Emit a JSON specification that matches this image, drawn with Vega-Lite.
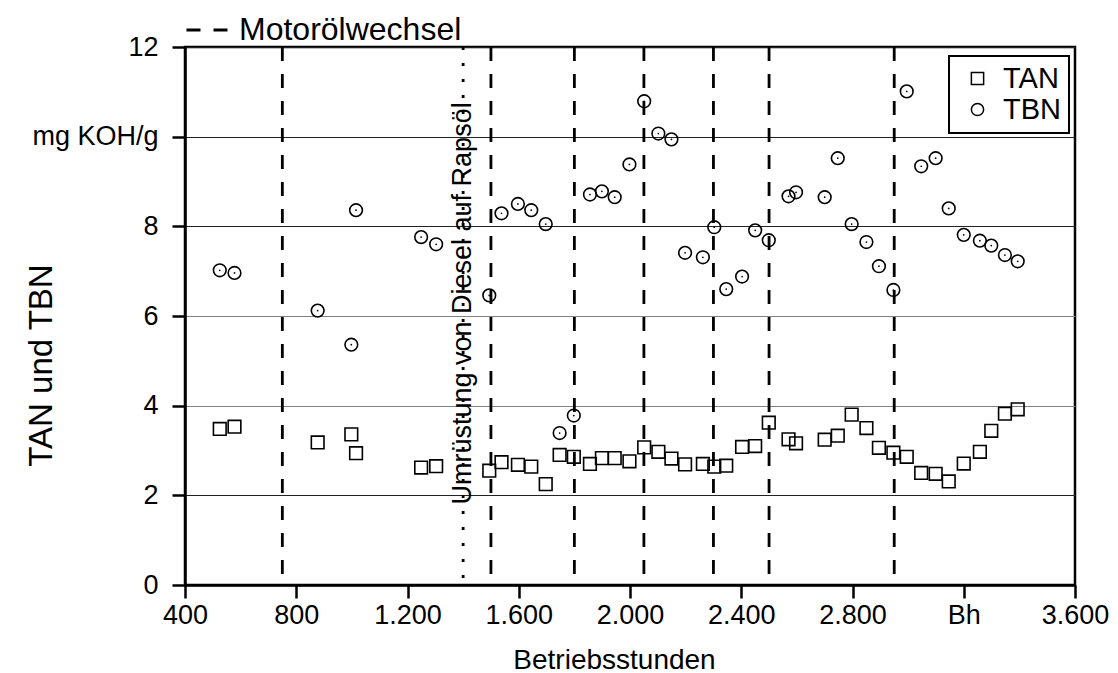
{
  "$schema": "https://vega.github.io/schema/vega-lite/v6.json",
  "width": 890,
  "height": 538,
  "autosize": {"type": "none"},
  "padding": {"left": 185, "top": 47, "right": 43, "bottom": 88},
  "background": "white",
  "config": {
    "font": "Liberation Sans",
    "view": {"stroke": "black", "strokeWidth": 2.5},
    "axis": {
      "labelFont": "Liberation Sans",
      "titleFont": "Liberation Sans",
      "labelColor": "black",
      "titleColor": "black",
      "titleFontWeight": "normal",
      "domainColor": "black",
      "domainWidth": 2.5,
      "tickColor": "black",
      "tickWidth": 2.5,
      "tickSize": 13
    },
    "legend": {"labelFont": "Liberation Sans", "labelColor": "black", "strokeWidth": 2}
  },
  "datasets": {
    "pts": [
      {"x": 525, "type": "TAN", "v": 3.48}, {"x": 525, "type": "TBN", "v": 7.02},
      {"x": 578, "type": "TAN", "v": 3.53}, {"x": 578, "type": "TBN", "v": 6.96},
      {"x": 877, "type": "TAN", "v": 3.18}, {"x": 877, "type": "TBN", "v": 6.12},
      {"x": 998, "type": "TAN", "v": 3.36}, {"x": 998, "type": "TBN", "v": 5.36},
      {"x": 1015, "type": "TAN", "v": 2.94}, {"x": 1015, "type": "TBN", "v": 8.36},
      {"x": 1249, "type": "TAN", "v": 2.62}, {"x": 1249, "type": "TBN", "v": 7.76},
      {"x": 1303, "type": "TAN", "v": 2.65}, {"x": 1303, "type": "TBN", "v": 7.6},
      {"x": 1494, "type": "TAN", "v": 2.55}, {"x": 1494, "type": "TBN", "v": 6.46},
      {"x": 1538, "type": "TAN", "v": 2.74}, {"x": 1538, "type": "TBN", "v": 8.29},
      {"x": 1597, "type": "TAN", "v": 2.68}, {"x": 1597, "type": "TBN", "v": 8.5},
      {"x": 1645, "type": "TAN", "v": 2.64}, {"x": 1645, "type": "TBN", "v": 8.36},
      {"x": 1697, "type": "TAN", "v": 2.25}, {"x": 1697, "type": "TBN", "v": 8.05},
      {"x": 1747, "type": "TAN", "v": 2.9}, {"x": 1747, "type": "TBN", "v": 3.39},
      {"x": 1798, "type": "TAN", "v": 2.86}, {"x": 1798, "type": "TBN", "v": 3.78},
      {"x": 1856, "type": "TAN", "v": 2.7}, {"x": 1856, "type": "TBN", "v": 8.71},
      {"x": 1899, "type": "TAN", "v": 2.83}, {"x": 1899, "type": "TBN", "v": 8.78},
      {"x": 1945, "type": "TAN", "v": 2.83}, {"x": 1945, "type": "TBN", "v": 8.65},
      {"x": 1998, "type": "TAN", "v": 2.76}, {"x": 1998, "type": "TBN", "v": 9.38},
      {"x": 2051, "type": "TAN", "v": 3.07}, {"x": 2051, "type": "TBN", "v": 10.79},
      {"x": 2102, "type": "TAN", "v": 2.97}, {"x": 2102, "type": "TBN", "v": 10.07},
      {"x": 2149, "type": "TAN", "v": 2.82}, {"x": 2149, "type": "TBN", "v": 9.94},
      {"x": 2198, "type": "TAN", "v": 2.69}, {"x": 2198, "type": "TBN", "v": 7.41},
      {"x": 2262, "type": "TAN", "v": 2.7}, {"x": 2262, "type": "TBN", "v": 7.31},
      {"x": 2303, "type": "TAN", "v": 2.64}, {"x": 2303, "type": "TBN", "v": 7.98},
      {"x": 2346, "type": "TAN", "v": 2.66}, {"x": 2346, "type": "TBN", "v": 6.6},
      {"x": 2403, "type": "TAN", "v": 3.08}, {"x": 2403, "type": "TBN", "v": 6.88},
      {"x": 2450, "type": "TAN", "v": 3.1}, {"x": 2450, "type": "TBN", "v": 7.91},
      {"x": 2499, "type": "TAN", "v": 3.62}, {"x": 2499, "type": "TBN", "v": 7.69},
      {"x": 2570, "type": "TAN", "v": 3.25}, {"x": 2570, "type": "TBN", "v": 8.67},
      {"x": 2597, "type": "TAN", "v": 3.16}, {"x": 2597, "type": "TBN", "v": 8.76},
      {"x": 2700, "type": "TAN", "v": 3.24}, {"x": 2700, "type": "TBN", "v": 8.65},
      {"x": 2747, "type": "TAN", "v": 3.33}, {"x": 2747, "type": "TBN", "v": 9.52},
      {"x": 2797, "type": "TAN", "v": 3.8}, {"x": 2797, "type": "TBN", "v": 8.05},
      {"x": 2850, "type": "TAN", "v": 3.5}, {"x": 2850, "type": "TBN", "v": 7.65},
      {"x": 2895, "type": "TAN", "v": 3.06}, {"x": 2895, "type": "TBN", "v": 7.11},
      {"x": 2947, "type": "TAN", "v": 2.95}, {"x": 2947, "type": "TBN", "v": 6.58},
      {"x": 2995, "type": "TAN", "v": 2.86}, {"x": 2995, "type": "TBN", "v": 11.01},
      {"x": 3047, "type": "TAN", "v": 2.5}, {"x": 3047, "type": "TBN", "v": 9.34},
      {"x": 3099, "type": "TAN", "v": 2.48}, {"x": 3099, "type": "TBN", "v": 9.52},
      {"x": 3146, "type": "TAN", "v": 2.31}, {"x": 3146, "type": "TBN", "v": 8.4},
      {"x": 3200, "type": "TAN", "v": 2.71}, {"x": 3200, "type": "TBN", "v": 7.81},
      {"x": 3258, "type": "TAN", "v": 2.97}, {"x": 3258, "type": "TBN", "v": 7.68},
      {"x": 3299, "type": "TAN", "v": 3.44}, {"x": 3299, "type": "TBN", "v": 7.57},
      {"x": 3348, "type": "TAN", "v": 3.82}, {"x": 3348, "type": "TBN", "v": 7.36},
      {"x": 3394, "type": "TAN", "v": 3.92}, {"x": 3394, "type": "TBN", "v": 7.22}
    ],
    "rules": [
      {"x": 750, "kind": "Motorölwechsel"},
      {"x": 1500, "kind": "Motorölwechsel"},
      {"x": 1800, "kind": "Motorölwechsel"},
      {"x": 2050, "kind": "Motorölwechsel"},
      {"x": 2300, "kind": "Motorölwechsel"},
      {"x": 2500, "kind": "Motorölwechsel"},
      {"x": 2950, "kind": "Motorölwechsel"},
      {"x": 1400, "kind": "Umrüstung"}
    ],
    "notes": [
      {"x": 1400, "v": 6.28, "t": "Umrüstung von Diesel auf Rapsöl"}
    ]
  },
  "encoding": {
    "x": {
      "field": "x", "type": "quantitative",
      "scale": {"domain": [400, 3600], "nice": false, "zero": false},
      "axis": {
        "title": "Betriebsstunden", "values": [400, 800, 1200, 1600, 2000, 2400, 2800, 3200, 3600],
        "labelExpr": "datum.value == 3200 ? 'Bh' : replace(format(datum.value, ','), ',', '.')",
        "labelFontSize": 27, "labelBaseline": "alphabetic", "labelPadding": 25,
        "labelFlush": false, "labelOverlap": false,
        "titleFontSize": 28, "titleX": 429, "titleY": 83, "titleBaseline": "alphabetic",
        "grid": false
      }
    }
  },
  "layer": [
    {
      "data": {"name": "rules"},
      "mark": {"type": "rule", "color": "black", "strokeWidth": 2.8},
      "encoding": {
        "strokeDash": {
          "field": "kind", "type": "nominal",
          "scale": {"domain": ["Motorölwechsel", "Umrüstung"], "range": [[14, 13], [3, 13]]},
          "legend": {
            "values": ["Motorölwechsel"], "title": null, "orient": "none",
            "legendX": 0, "legendY": -39, "padding": 0,
            "labelFontSize": 32, "labelOffset": 10, "labelLimit": 0,
            "symbolType": "stroke", "symbolSize": 1681, "symbolStrokeWidth": 3,
            "symbolStrokeColor": "black"
          }
        }
      }
    },
    {
      "data": {"name": "notes"},
      "mark": {"type": "text", "angle": 270, "fontSize": 27, "align": "center", "baseline": "middle", "color": "black", "font": "Liberation Sans"},
      "encoding": {
        "y": {"field": "v", "type": "quantitative"},
        "text": {"field": "t"}
      }
    },
    {
      "data": {"name": "pts"},
      "mark": {"type": "point", "filled": false, "stroke": "black", "strokeWidth": 1.6, "size": 160, "opacity": 1},
      "encoding": {
        "y": {
          "field": "v", "type": "quantitative", "scale": {"domain": [0, 12], "nice": false},
          "axis": {
            "title": "TAN und TBN", "values": [0, 2, 4, 6, 8, 10, 12],
            "labelExpr": "datum.value == 10 ? 'mg KOH/g' : datum.label",
            "labelFontSize": 27, "labelPadding": 14, "labelBaseline": "middle",
            "labelFlush": false, "labelOverlap": false,
            "titleFontSize": 33, "titleX": -134, "titleY": 318, "titleBaseline": "alphabetic", "titleAngle": 270,
            "grid": true,
            "gridColor": {"condition": {"test": "datum.value == 4 || datum.value == 6", "value": "#808080"}, "value": "#222222"},
            "gridWidth": 1.2
          }
        },
        "shape": {
          "field": "type", "type": "nominal",
          "scale": {"domain": ["TAN", "TBN"], "range": ["square", "circle"]},
          "legend": {
            "title": null, "orient": "none", "legendX": 764, "legendY": 9,
            "strokeColor": "black", "fillColor": "white",
            "padding": 8, "symbolOffset": 6, "labelOffset": 11, "rowPadding": 1,
            "labelFontSize": 29, "symbolSize": 150, "symbolStrokeWidth": 1.5,
            "symbolStrokeColor": "black", "symbolFillColor": "transparent"
          }
        }
      }
    },
    {
      "data": {"name": "pts"},
      "transform": [{"filter": "datum.type == 'TBN'"}],
      "mark": {"type": "point", "filled": true, "color": "black", "size": 3, "opacity": 1},
      "encoding": {
        "y": {"field": "v", "type": "quantitative"}
      }
    }
  ]
}
